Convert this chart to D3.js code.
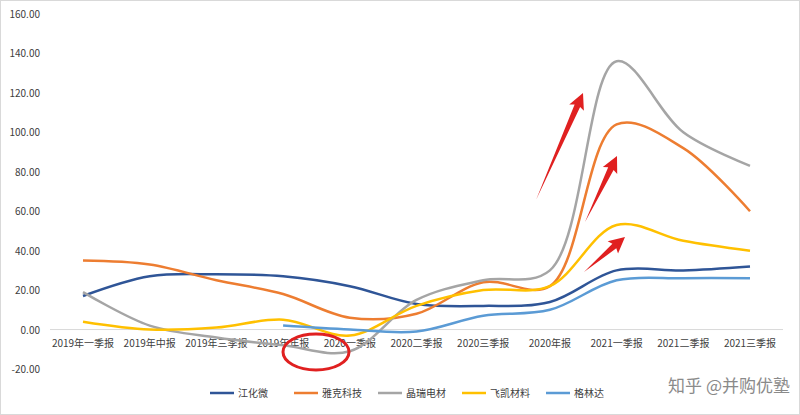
<!DOCTYPE html><html><head><meta charset="utf-8"><script src="https://cdn.jsdelivr.net/npm/d3@7"></script>
<style>body{margin:0;background:#fff}text{font-family:"Noto Sans CJK SC","DejaVu Sans",sans-serif}</style></head><body>
<svg id="c" width="800" height="415"></svg>
<script>
const categories=["2019年一季报","2019年中报","2019年三季报","2019年年报","2020一季报","2020二季报","2020三季报","2020年报","2021一季报","2021二季报","2021三季报"];
const names=["江化微","雅克科技","晶瑞电材","飞凯材料","格林达"];
const colors=["#2F5597","#ED7D31","#A5A5A5","#FFC000","#5B9BD5"];
const s1=[17,27,28,27,22,13,12,14,30,30,32];
const s2=[35,33,25,18,6,8,24,22,104,92,60];
const s3=[19,2,-4,-8,-11,15,25,30,136,100,83];
const s4=[4,0,1,5,-3,12,20,22,53,45,40];
const s5=[null,null,null,2,0,-1,7,10,25,26,26];
const yTicks=[-20,0,20,40,60,80,100,120,140,160];
const series=[s1,s2,s3,s4,s5];
const svg=d3.select("#c");
svg.append("rect").attr("x",0.5).attr("y",0.5).attr("width",799).attr("height",414).attr("fill","none").attr("stroke","#d9d9d9");
const x=d3.scalePoint().domain(categories).range([83,750]);
const y=d3.scaleLinear().domain([-20,160]).range([369,14]);
yTicks.forEach(t=>svg.append("text").attr("x",40).attr("y",y(t)+4).attr("text-anchor","end").attr("font-size",10).attr("fill","#404040").text(t.toFixed(2)));
svg.append("line").attr("x1",50).attr("x2",783).attr("y1",y(0)).attr("y2",y(0)).attr("stroke","#d9d9d9");
categories.forEach(c=>svg.append("text").attr("x",x(c)).attr("y",y(0)+17).attr("text-anchor","middle").attr("font-size",10).attr("fill","#404040").text(c));
const line=d3.line().defined(d=>d[1]!=null).x(d=>x(d[0])).y(d=>y(d[1])).curve(d3.curveCatmullRom.alpha(0.5));
series.forEach((s,i)=>svg.append("path").attr("d",line(categories.map((c,j)=>[c,s[j]]).filter(d=>d[1]!=null))).attr("fill","none").attr("stroke",colors[i]).attr("stroke-width",2.5));
// annotations
const arrow=(x1,y1,x2,y2)=>{const a=Math.atan2(y2-y1,x2-x1),L=Math.hypot(x2-x1,y2-y1);
 const g=svg.append("g").attr("transform",`translate(${x1},${y1}) rotate(${a*180/Math.PI})`);
 g.append("path").attr("d",`M0,0 L${L-14},-3 L${L-16},-8 L${L},0 L${L-16},8 L${L-14},3 Z`).attr("fill","#e02020");};
arrow(536,200,583,93);arrow(585,222,617,156);arrow(584,272,625,237);
svg.append("ellipse").attr("cx",316).attr("cy",352).attr("rx",33).attr("ry",18).attr("fill","none").attr("stroke","#e02020").attr("stroke-width",3);
let lx=210;
names.forEach((n,i)=>{svg.append("line").attr("x1",lx).attr("x2",lx+24).attr("y1",393).attr("y2",393).attr("stroke",colors[i]).attr("stroke-width",2.5);
 svg.append("text").attr("x",lx+28).attr("y",397).attr("font-size",10).attr("fill","#404040").text(n);lx+=84;});
svg.append("text").attr("x",790).attr("y",392).attr("text-anchor","end").attr("font-size",17).attr("fill","#8a8a8a").text("知乎 @并购优塾");
</script></body></html>
